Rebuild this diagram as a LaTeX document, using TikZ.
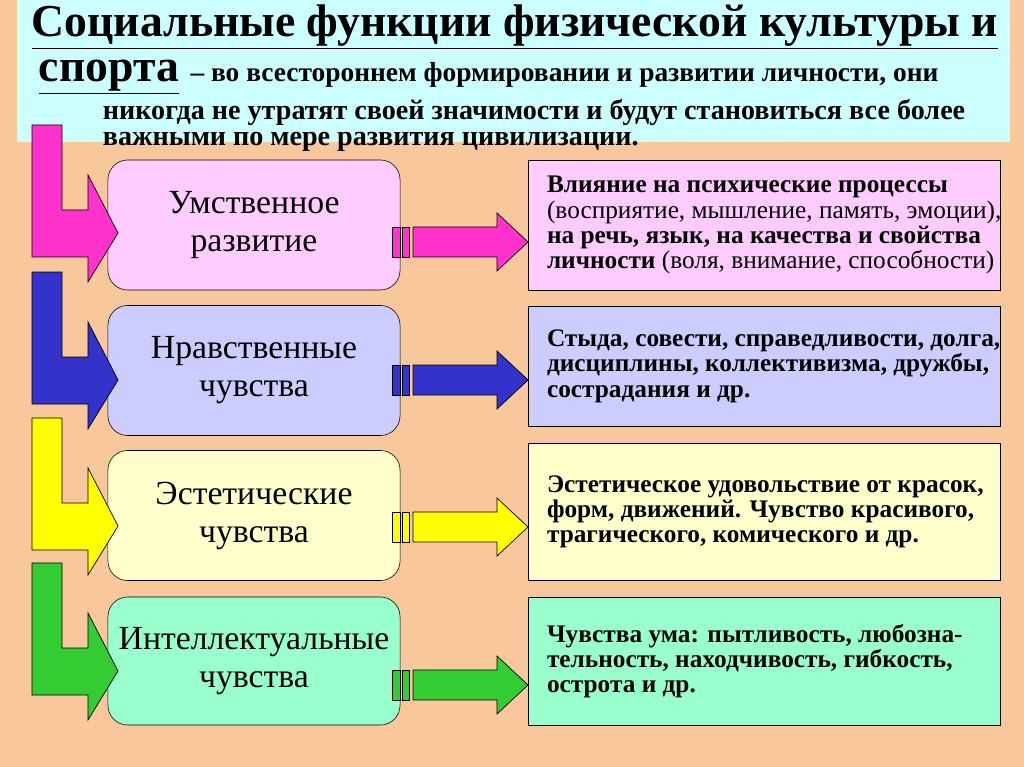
\documentclass[tikz,border=0pt]{standalone}
\usepackage{fontspec}
\setmainfont{Liberation Serif}
\definecolor{peach}{HTML}{F8C89C}
\definecolor{band}{HTML}{CCFFFF}
\definecolor{arPink}{HTML}{FF33CC}
\definecolor{arBlue}{HTML}{3333CC}
\definecolor{arYellow}{HTML}{FFFF00}
\definecolor{arGreen}{HTML}{33CC33}
\definecolor{bxPink}{HTML}{FFCCFF}
\definecolor{bxBlue}{HTML}{CCCCFF}
\definecolor{bxYellow}{HTML}{FFFFCC}
\definecolor{bxGreen}{HTML}{99FFCC}
\tikzset{
  leftbox/.style={draw, rounded corners=14pt, minimum width=7.3cm, minimum height=3.25cm,
    align=center, font=\fontsize{24}{27}\selectfont, inner sep=0pt},
  rightbox/.style={draw, minimum width=11.8cm, anchor=north west, inner sep=0pt},
  righttext/.style={anchor=west, align=left, font=\fontsize{18}{18}\selectfont},
  arr/.style={draw, line width=0.5pt}
}
\begin{document}
\begin{tikzpicture}[x=0.025cm, y=-0.025cm]
\useasboundingbox (0,0) rectangle (1024,767);
\fill[peach] (0,0) rectangle (1024,767);
\fill[band] (17,0) rectangle (1010,142);

% title
\node (t1) at (515,27) {\fontsize{32.5}{36}\selectfont\bfseries\underline{Социальные функции физической культуры и}};
\node[anchor=west] (t2) at (34,77) {\fontsize{32.5}{36}\selectfont\bfseries\underline{спорта}\ \fontsize{19.5}{22}\selectfont – во всестороннем формировании и развитии личности, они};
\node[anchor=north west, align=left, font=\fontsize{20}{19}\selectfont\bfseries] (t3) at (98,94) {никогда не утратят своей значимости и будут становиться все более\\важными по мере развития цивилизации.};

% left boxes
\node[leftbox, fill=bxPink] (l1) at (254,225) {Умственное\\развитие};
\node[leftbox, fill=bxBlue] (l2) at (254,370.5) {Нравственные\\чувства};
\node[leftbox, fill=bxYellow] (l3) at (254,515.5) {Эстетические\\чувства};
\node[leftbox, fill=bxGreen, minimum height=3.2cm] (l4) at (254,661) {Интеллектуальные\\чувства};

% right boxes
\node[rightbox, fill=bxPink, minimum height=3.25cm] (r1) at (528,160) {};
\node[righttext] (r1t) at ([xshift=10]r1.west) {\textbf{Влияние на психические процессы}\\(восприятие, мышление, память, эмоции),\\\textbf{на речь, язык, на качества и свойства}\\\textbf{личности} (воля, внимание, способности)};
\node[rightbox, fill=bxBlue, minimum height=3.0cm] (r2) at (528,306) {};
\node[righttext, font=\fontsize{18}{18}\selectfont\bfseries] (r2t) at ([xshift=10]r2.west) {Стыда, совести, справедливости, долга,\\дисциплины, коллективизма, дружбы,\\сострадания и др.};
\node[rightbox, fill=bxYellow, minimum height=3.425cm] (r3) at (528,443) {};
\node[righttext, font=\fontsize{18}{18}\selectfont\bfseries] (r3t) at ([xshift=10]r3.west) {Эстетическое удовольствие от красок,\\форм, движений. Чувство красивого,\\трагического, комического и др.};
\node[rightbox, fill=bxGreen, minimum height=3.2cm] (r4) at (528,597) {};
\node[righttext, font=\fontsize{18}{18}\selectfont\bfseries] (r4t) at ([xshift=10]r4.west) {Чувства ума: пытливость, любозна-\\тельность, находчивость, гибкость,\\острота и др.};

% L-shaped arrows into the left boxes
\foreach \T/\c in {125/arPink, 272/arBlue, 418/arYellow, 563/arGreen}{
  \draw[arr, fill=\c] (32,\T) -- (62,\T) -- (62,\T+85) -- (88,\T+85) -- (88,\T+50)
    -- (118,\T+108) -- (88,\T+157) -- (88,\T+132) -- (32,\T+132) -- cycle;
}

% striped arrows from left to right boxes
\foreach \y/\c in {242/arPink, 380/arBlue, 527/arYellow, 685/arGreen}{
  \draw[arr, fill=\c] (392,\y-15) rectangle (400,\y+15);
  \draw[arr, fill=\c] (402,\y-15) rectangle (409,\y+15);
  \draw[arr, fill=\c] (413,\y-15) -- (497,\y-15) -- (497,\y-29) -- (528,\y)
    -- (497,\y+29) -- (497,\y+15) -- (413,\y+15) -- cycle;
}
\end{tikzpicture}
\end{document}
